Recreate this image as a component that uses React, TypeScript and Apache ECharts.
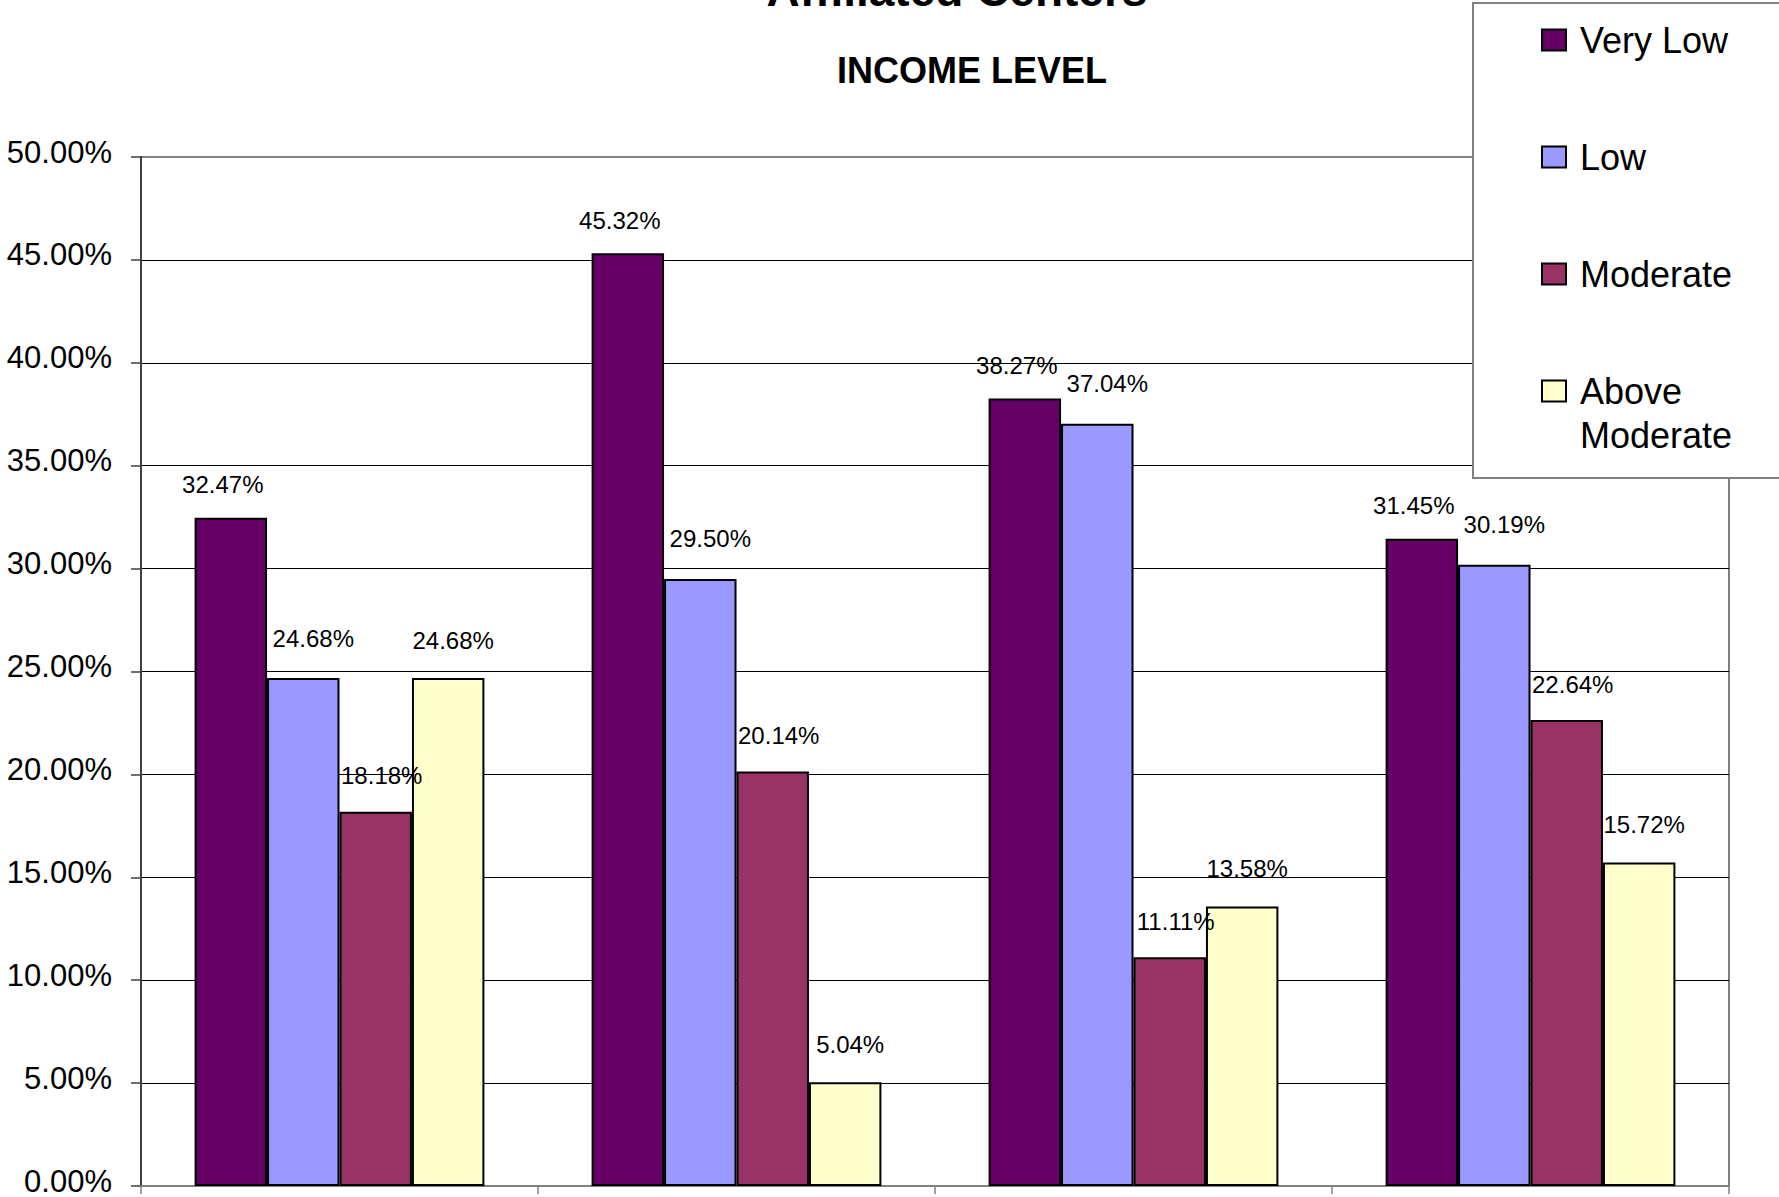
import React, { useEffect, useRef } from "react";
import * as echarts from "echarts";

const categories = ["Center 1", "Center 2", "Center 3", "Center 4"];
const seriesNames = ["Very Low", "Low", "Moderate", "Above Moderate"];
const veryLow = [32.47, 45.32, 38.27, 31.45];
const low = [24.68, 29.5, 37.04, 30.19];
const moderate = [18.18, 20.14, 11.11, 22.64];
const aboveModerate = [24.68, 5.04, 13.58, 15.72];
const seriesColors = ["#660066", "#9999FF", "#993366", "#FFFFCC"];
const yTicks = { min: 0, max: 50, interval: 5 };

const FONT = "'Liberation Sans', Arial, 'DejaVu Sans', sans-serif";
// per-series label nudges (style only)
const labelOffsets = [
  [-8, 3],
  [10, -4],
  [6, 0],
  [5, -2],
];

export default function App() {
  const ref = useRef<HTMLDivElement>(null);
  useEffect(() => {
    if (!ref.current) return;
    const chart = echarts.init(ref.current, null, { renderer: "svg" });
    const values = [veryLow, low, moderate, aboveModerate];
    const legendFont = { fontFamily: FONT, fontSize: 36, color: "#000", lineHeight: 44 };
    const option: any = {
      animation: false,
      backgroundColor: "#ffffff",
      graphic: [
        {
          type: "text",
          x: 957,
          y: -10,
          style: {
            text: "Affiliated Centers",
            font: `bold 46px ${FONT}`,
            fill: "#000",
            align: "center",
            verticalAlign: "middle",
          },
        },
        {
          type: "text",
          x: 972,
          y: 70,
          style: {
            text: "INCOME LEVEL",
            font: `bold 36px ${FONT}`,
            fill: "#000",
            align: "center",
            verticalAlign: "middle",
          },
        },
      ],
      legend: {
        orient: "vertical",
        left: 1473,
        top: 3,
        padding: [15, 100, 25, 68],
        itemGap: 73,
        itemWidth: 24,
        itemHeight: 21,
        icon: "rect",
        selectedMode: false,
        backgroundColor: "#ffffff",
        borderColor: "#808080",
        borderWidth: 2,
        borderRadius: 0,
        itemStyle: { borderColor: "#000", borderWidth: 2 },
        textStyle: {
          ...legendFont,
          rich: {
            n: { ...legendFont, padding: [0, 0, 0, 9] },
            a: { ...legendFont, lineHeight: 22, padding: [0, 0, -22, 9] },
            b: { ...legendFont, lineHeight: 22, padding: [0, 0, -66, 9] },
          },
        },
        formatter: (name: string) =>
          name === "Above Moderate" ? "{a|Above}\n{b|Moderate}" : `{n|${name}}`,
        data: seriesNames,
      },
      grid: {
        left: 141,
        right: 50,
        top: 157,
        bottom: 11,
        show: true,
        borderColor: "#808080",
        borderWidth: 2,
        backgroundColor: "transparent",
        outerBoundsMode: "none",
        containLabel: false,
      },
      xAxis: {
        type: "category",
        data: categories,
        boundaryGap: true,
        axisLine: { show: true, lineStyle: { color: "#808080", width: 2 } },
        axisTick: { show: true, alignWithLabel: false, length: 8, lineStyle: { color: "#808080", width: 1.5 } },
        axisLabel: { show: false },
        splitLine: { show: false },
      },
      yAxis: {
        type: "value",
        min: yTicks.min,
        max: yTicks.max,
        interval: yTicks.interval,
        axisLine: { show: true, lineStyle: { color: "#404040", width: 2 } },
        axisTick: { show: true, inside: false, length: 10, lineStyle: { color: "#404040", width: 1.5 } },
        axisLabel: {
          margin: 29,
          color: "#000",
          fontFamily: FONT,
          fontSize: 31,
          verticalAlign: "bottom",
          lineHeight: 10,
          formatter: (v: number) => v.toFixed(2) + "%",
        },
        splitLine: {
          show: true,
          showMinLine: false,
          showMaxLine: false,
          lineStyle: { color: "#000", width: 1 },
        },
      },
      series: seriesNames.map((name, i) => ({
        name,
        type: "bar",
        data: values[i],
        barGap: "0%",
        barCategoryGap: "27%",
        itemStyle: { color: seriesColors[i], borderColor: "#000", borderWidth: 2 },
        label: {
          show: true,
          position: "top",
          distance: 24,
          offset: labelOffsets[i],
          color: "#000",
          fontFamily: FONT,
          fontSize: 24,
          formatter: (p: any) => Number(p.value).toFixed(2) + "%",
        },
      })),
    };
    chart.setOption(option);
    return () => chart.dispose();
  }, []);
  return (
    <div
      ref={ref}
      style={{ position: "fixed", left: 0, top: 0, width: 1779, height: 1197, background: "#fff" }}
    />
  );
}
